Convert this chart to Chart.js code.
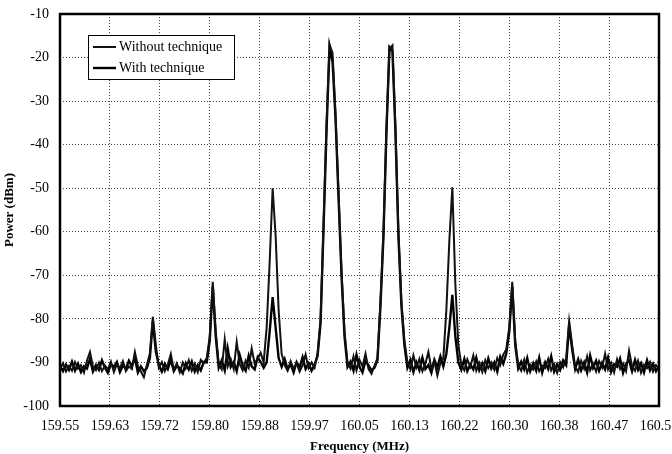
<!DOCTYPE html>
<html>
<head>
<meta charset="utf-8">
<script src="https://cdn.jsdelivr.net/npm/chart.js@4.4.0/dist/chart.umd.min.js"></script>
<style>
	html, body { margin: 0; padding: 0; background: #fff; overflow: hidden; }
	#wrap { width: 672px; height: 454px; }
</style>
</head>
<body>
<div id="wrap"><canvas id="spectrum" width="672" height="454"></canvas></div>
<script>
// analyser sweep: 201 points, 159.55 .. 160.55 MHz
const sweepStart = 159.55;
const sweepStep = 0.005;
const xMin = 159.55;
const xMax = 160.55;
const xTickLabels = ['159.55', '159.63', '159.72', '159.80', '159.88', '159.97', '160.05',
	'160.13', '160.22', '160.30', '160.38', '160.47', '160.55'];
const yTicks = [-10, -20, -30, -40, -50, -60, -70, -80, -90, -100];
const seriesNames = ['Without technique', 'With technique'];

// power readings (dBm), one per sweep point
const powerWithout = [
	-91.5, -90.2, -92.1, -90.8, -91.9, -89.9, -91.4, -90.6, -92.3, -89.6,
	-87.6, -90.9, -91.8, -90.1, -92.0, -90.7, -91.6, -89.8, -92.2, -90.4,
	-91.3, -89.7, -92.0, -90.9, -91.5, -87.6, -90.8, -92.1, -93.4, -90.6,
	-88.0, -79.5, -86.0, -91.2, -89.9, -92.0, -90.5, -88.1, -91.7, -90.2,
	-92.3, -90.0, -91.4, -89.5, -91.9, -90.3, -92.2, -89.4, -90.1, -89.0,
	-84.0, -71.5, -83.0, -90.4, -91.6, -84.7, -90.9, -89.2, -91.5, -85.3,
	-90.4, -91.8, -89.6, -91.2, -86.8, -90.3, -89.1, -87.8, -90.0, -82.0,
	-67.0, -50.0, -61.0, -78.0, -88.0, -90.6, -91.9, -89.7, -91.4, -90.2,
	-92.1, -90.6, -88.2, -91.3, -90.0, -91.2, -88.0, -80.0, -58.0, -35.0,
	-17.0, -19.0, -33.0, -51.0, -69.0, -83.0, -90.0, -91.4, -88.6, -91.8,
	-89.4, -90.9, -88.0, -91.5, -92.6, -90.8, -89.0, -76.0, -60.0, -36.0,
	-18.0, -17.2, -36.0, -60.0, -76.0, -85.0, -90.0, -91.6, -88.4, -91.1,
	-89.2, -92.0, -90.3, -87.6, -91.4, -89.8, -93.0, -90.2, -89.0, -78.0,
	-62.0, -49.8, -72.0, -86.0, -90.5, -91.8, -89.3, -91.0, -88.4, -91.9,
	-90.1, -92.2, -89.5, -91.3, -90.0, -91.7, -89.0, -90.6, -88.2, -87.0,
	-82.0, -71.5, -85.0, -90.6, -91.9, -89.4, -92.3, -90.5, -91.6, -89.8,
	-92.0, -90.7, -91.3, -89.2, -91.8, -90.4, -92.4, -89.9, -91.1, -89.0,
	-80.5, -86.0, -90.9, -92.2, -89.6, -91.4, -88.6, -91.8, -90.3, -92.1,
	-89.7, -91.2, -88.0, -91.6, -90.1, -92.3, -89.3, -91.5, -90.2, -92.0,
	-87.3, -90.8, -91.9, -89.6, -92.4, -90.5, -91.3, -89.9, -92.1, -90.6,
	-91.4
];
const powerWith = [
	-90.8, -92.0, -90.5, -91.7, -89.8, -91.9, -90.3, -92.2, -90.9, -91.4,
	-89.2, -92.1, -90.6, -91.7, -89.5, -91.2, -92.4, -90.4, -91.0, -89.9,
	-92.2, -90.7, -91.5, -89.6, -90.9, -89.0, -92.3, -90.9, -92.0, -91.3,
	-89.0, -80.5, -87.5, -90.6, -92.1, -90.3, -91.5, -89.4, -92.0, -90.8,
	-91.3, -92.5, -90.2, -91.6, -89.8, -92.1, -90.6, -91.8, -89.9, -90.0,
	-85.0, -72.5, -84.0, -91.2, -89.5, -91.8, -86.8, -91.0, -89.9, -92.0,
	-88.3, -90.7, -91.9, -88.5, -90.9, -91.6, -88.8, -89.9, -91.2, -90.0,
	-83.0, -75.0, -82.0, -89.0, -91.0, -89.2, -91.6, -90.4, -92.3, -89.9,
	-91.1, -88.8, -91.5, -90.2, -91.9, -90.5, -88.5, -81.0, -59.0, -36.5,
	-17.5, -21.0, -34.0, -52.0, -70.0, -84.0, -91.0, -89.8, -91.9, -88.2,
	-91.0, -92.3, -89.6, -90.7, -91.8, -91.2, -89.5, -77.0, -61.0, -37.0,
	-17.6, -18.5, -37.0, -61.0, -77.0, -86.0, -91.2, -89.4, -92.2, -90.0,
	-91.8, -88.9, -91.5, -90.6, -92.4, -89.4, -91.1, -88.6, -90.9, -88.0,
	-82.0, -74.5, -84.0, -90.0, -91.7, -89.2, -92.0, -90.5, -91.6, -88.9,
	-91.8, -90.2, -92.0, -89.1, -91.4, -90.0, -92.1, -88.7, -90.3, -88.0,
	-83.0, -72.5, -86.0, -91.4, -89.8, -91.6, -89.0, -92.0, -90.2, -91.9,
	-88.9, -92.3, -90.0, -91.5, -88.6, -92.1, -90.4, -91.7, -89.5, -90.6,
	-81.5, -87.0, -91.5, -89.3, -91.8, -90.0, -92.3, -88.4, -91.2, -89.6,
	-91.9, -90.1, -91.6, -88.9, -92.2, -90.4, -91.0, -89.1, -92.4, -90.3,
	-89.5, -92.0, -89.4, -91.7, -90.2, -92.3, -89.5, -91.8, -90.3, -92.0,
	-90.8
];

function toPoints(values) {
	return values.map(function(v, i) {
		return { x: sweepStart + i * sweepStep, y: v };
	});
}

// frame round the plot area
const framePlugin = {
	id: 'frame',
	afterDatasetsDraw: function(chart) {
		const a = chart.chartArea;
		const ctx = chart.ctx;
		ctx.save();
		ctx.strokeStyle = '#000';
		ctx.lineWidth = 2.5;
		ctx.strokeRect(a.left, a.top, a.right - a.left, a.bottom - a.top);
		ctx.restore();
	}
};

// boxed legend inside the plot, top left
const boxLegend = {
	id: 'boxLegend',
	afterDatasetsDraw: function(chart) {
		const a = chart.chartArea;
		const ctx = chart.ctx;
		const x = a.left + 28, y = a.top + 21, w = 146, h = 44;
		ctx.save();
		ctx.fillStyle = '#fff';
		ctx.fillRect(x, y, w, h);
		ctx.strokeStyle = '#000';
		ctx.lineWidth = 1;
		ctx.strokeRect(x + 0.5, y + 0.5, w, h);
		ctx.font = '14px "Liberation Serif"';
		ctx.textBaseline = 'middle';
		chart.data.datasets.forEach(function(ds, i) {
			const ly = y + 12 + i * 21;
			ctx.strokeStyle = ds.borderColor;
			ctx.lineWidth = ds.borderWidth;
			ctx.beginPath();
			ctx.moveTo(x + 5, ly);
			ctx.lineTo(x + 28, ly);
			ctx.stroke();
			ctx.fillStyle = '#000';
			ctx.fillText(ds.label, x + 31, ly);
		});
		ctx.restore();
	}
};

const ctx = document.getElementById('spectrum').getContext('2d');
const spectrumChart = new Chart(ctx, {
	type: 'line',
	data: {
		datasets: [{
			label: seriesNames[0],
			data: toPoints(powerWithout),
			borderColor: '#111',
			borderWidth: 2,
			pointRadius: 0,
			tension: 0
		}, {
			label: seriesNames[1],
			data: toPoints(powerWith),
			borderColor: '#000',
			borderWidth: 2.4,
			pointRadius: 0,
			tension: 0
		}]
	},
	options: {
		responsive: false,
		animation: false,
		layout: { padding: { top: 14, right: 13, bottom: 0, left: 0 } },
		plugins: {
			legend: { display: false },
			tooltip: { enabled: false }
		},
		scales: {
			x: {
				type: 'linear',
				min: xMin,
				max: xMax,
				afterBuildTicks: function(scale) {
					scale.ticks = xTickLabels.map(function(l, i) {
						return { value: xMin + i * (xMax - xMin) / (xTickLabels.length - 1) };
					});
				},
				afterFit: function(scale) {
					scale.paddingRight = 0;
					scale.height = 48;
				},
				ticks: {
					autoSkip: false,
					maxRotation: 0,
					padding: 12,
					color: '#000',
					font: { family: 'Liberation Serif', size: 14 },
					callback: function(v, i) { return xTickLabels[i]; }
				},
				grid: { color: '#444', lineWidth: 1, drawTicks: false },
				border: { display: false, dash: [1, 2] },
				title: {
					display: true,
					text: 'Frequency (MHz)',
					color: '#000',
					font: { family: 'Liberation Serif', size: 13, weight: 'bold' },
					padding: { top: 0, bottom: 0 }
				}
			},
			y: {
				min: -100,
				max: -10,
				afterBuildTicks: function(scale) {
					scale.ticks = yTicks.map(function(v) { return { value: v }; });
				},
				afterFit: function(scale) {
					scale.width = 60;
					scale.paddingTop = 0;
					scale.paddingBottom = 0;
				},
				ticks: {
					padding: 11,
					color: '#000',
					font: { family: 'Liberation Serif', size: 14 }
				},
				grid: { color: '#444', lineWidth: 1, drawTicks: false },
				border: { display: false, dash: [1, 2] },
				title: {
					display: true,
					text: 'Power (dBm)',
					color: '#000',
					font: { family: 'Liberation Serif', size: 13, weight: 'bold' },
					padding: { top: 2, bottom: 0 }
				}
			}
		}
	},
	plugins: [framePlugin, boxLegend]
});
</script>
</body>
</html>
